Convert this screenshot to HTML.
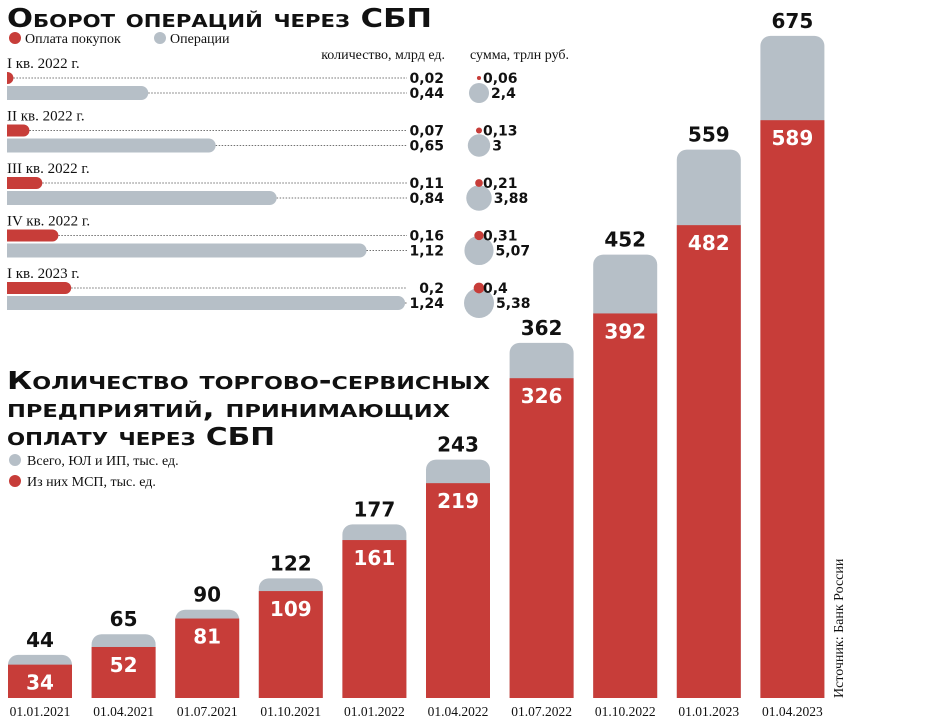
<!DOCTYPE html>
<html><head><meta charset="utf-8">
<style>
html,body{margin:0;padding:0;background:#fff;}
svg{display:block;font-family:"Liberation Sans","DejaVu Sans",sans-serif;}
.ttl{font-family:"DejaVu Sans","Liberation Sans",sans-serif;font-weight:bold;font-variant:small-caps;fill:#111;}
.lbl{font-family:"Liberation Serif",serif;fill:#111;}
.num{font-family:"DejaVu Sans",sans-serif;font-weight:bold;fill:#111;}
</style></head>
<body>
<svg id="chart" width="929" height="726" viewBox="0 0 929 726">
  <text class="ttl" x="7" y="27" font-size="26" textLength="425" lengthAdjust="spacingAndGlyphs">Оборот операций через СБП</text>
  <circle cx="15" cy="38" r="6" fill="#c73d39"/>
  <text class="lbl" x="25" y="43" font-size="14">Оплата покупок</text>
  <circle cx="160" cy="38" r="6" fill="#b6bfc7"/>
  <text class="lbl" x="170" y="43" font-size="14">Операции</text>
  <text class="lbl" x="445" y="59" font-size="14" text-anchor="end">количество, млрд ед.</text>
  <text class="lbl" x="470" y="59" font-size="14">сумма, трлн руб.</text>
  <g id="topg"></g>
  <text class="ttl" x="7" y="389" font-size="25" textLength="483" lengthAdjust="spacingAndGlyphs">Количество торгово-сервисных</text>
  <text class="ttl" x="7" y="417" font-size="25" textLength="443" lengthAdjust="spacingAndGlyphs">предприятий, принимающих</text>
  <text class="ttl" x="7" y="445" font-size="25" textLength="268" lengthAdjust="spacingAndGlyphs">оплату через СБП</text>
  <circle cx="15" cy="460" r="6" fill="#b6bfc7"/>
  <text class="lbl" x="27" y="465" font-size="14">Всего, ЮЛ и ИП, тыс. ед.</text>
  <circle cx="15" cy="481" r="6" fill="#c73d39"/>
  <text class="lbl" x="27" y="486" font-size="14">Из них МСП, тыс. ед.</text>
  <g id="bottom"></g>
  <text class="lbl" x="0" y="0" font-size="14" transform="translate(843,698) rotate(-90)">Источник: Банк России</text>
</svg>
<script>
const quarters=["I кв. 2022 г.","II кв. 2022 г.","III кв. 2022 г.","IV кв. 2022 г.","I кв. 2023 г."];
const purchCount=[0.02,0.07,0.11,0.16,0.2];
const opCount=[0.44,0.65,0.84,1.12,1.24];
const purchCountLbl=["0,02","0,07","0,11","0,16","0,2"];
const opCountLbl=["0,44","0,65","0,84","1,12","1,24"];
const purchSum=[0.06,0.13,0.21,0.31,0.4];
const opSum=[2.4,3,3.88,5.07,5.38];
const purchSumLbl=["0,06","0,13","0,21","0,31","0,4"];
const opSumLbl=["2,4","3","3,88","5,07","5,38"];

const dates=["01.01.2021","01.04.2021","01.07.2021","01.10.2021","01.01.2022","01.04.2022","01.07.2022","01.10.2022","01.01.2023","01.04.2023"];
const totals=[44,65,90,122,177,243,362,452,559,675];
const msp=[34,52,81,109,161,219,326,392,482,589];

const NS="http://www.w3.org/2000/svg";
function mk(tag,attrs,parent,text){const e=document.createElementNS(NS,tag);for(const k in attrs)e.setAttribute(k,attrs[k]);if(text!==undefined)e.textContent=text;parent.appendChild(e);return e;}
const RED="#c73d39",GRAY="#b6bfc7";

const topG=document.getElementById('topg');
const x0=7, pxU=321;
const xq=v=>x0+v*pxU;
const rowY=i=>78+i*52.5;
const rScale=v=>15*Math.sqrt(v/5.38);
quarters.forEach((q,i)=>{
  const y=rowY(i);
  let t=mk('text',{x:7,y:y-10,'font-size':15,class:'lbl'},topG,q);
  
  
  let l1=mk('line',{x1:xq(purchCount[i]),x2:407,y1:y,y2:y,stroke:'#444','stroke-width':0.8,'stroke-dasharray':'1.5,1.5'},topG);
  
  
  let l2=mk('line',{x1:xq(opCount[i]),x2:407,y1:y+15,y2:y+15,stroke:'#444','stroke-width':0.8,'stroke-dasharray':'1.5,1.5'},topG);
  
  
  const w1=xq(purchCount[i])-x0;
  let b1=mk('path',{d:`M${x0},${y-6}H${x0+Math.max(w1-6,0)}a6,6 0 0 1 0,12H${x0}Z`,fill:RED},topG);
  
  
  const w2=xq(opCount[i])-x0;
  let b2=mk('path',{d:`M${x0},${y+8}H${x0+w2-7}a7,7 0 0 1 0,14H${x0}Z`,fill:GRAY},topG);
  
  
  let v1=mk('text',{x:444,y:y+5,'font-size':14,'text-anchor':'end',class:'num'},topG,purchCountLbl[i]);
  
  
  let v2=mk('text',{x:444,y:y+20,'font-size':14,'text-anchor':'end',class:'num'},topG,opCountLbl[i]);
  
  
  const rg=rScale(opSum[i]);
  let c2=mk('circle',{cx:479,cy:y+15,r:rg,fill:GRAY},topG);
  
  
  const rr=rScale(purchSum[i])*1.3;
  let c1=mk('circle',{cx:479,cy:y,r:Math.max(rr,1.2),fill:RED},topG);
  
  
  let s1=mk('text',{x:483,y:y+5,'font-size':14,class:'num'},topG,purchSumLbl[i]);
  
  
  let s2=mk('text',{x:479+rg+2,y:y+20,'font-size':14,class:'num'},topG,opSumLbl[i]);
  
  
});

const bot=document.getElementById('bottom');
const base=698, kU=0.981, bw=64;
const yv=v=>base-v*kU;
const xb=i=>8+i*83.6;
dates.forEach((d,i)=>{
  const x=xb(i), yt=yv(totals[i]), ym=yv(msp[i]);
  let g=mk('path',{d:`M${x},${base}V${yt+10}a10,10 0 0 1 10,-10H${x+bw-10}a10,10 0 0 1 10,10V${base}Z`,fill:GRAY},bot);
  
  
  let r=mk('rect',{x:x,y:ym,width:bw,height:base-ym,fill:RED},bot);
  
  
  let tl=mk('text',{x:x+bw/2,y:yt-8,'font-size':20,'text-anchor':'middle',class:'num'},bot,String(totals[i]));
  
  
  let ml=mk('text',{x:x+bw/2,y:ym+25,'font-size':20,'text-anchor':'middle',class:'num',style:'fill:#fff'},bot,String(msp[i]));
  
  
  let dl=mk('text',{x:x+bw/2,y:716,'font-size':13.5,'text-anchor':'middle',class:'lbl'},bot,d);
  
  
});
</script>
</body></html>
